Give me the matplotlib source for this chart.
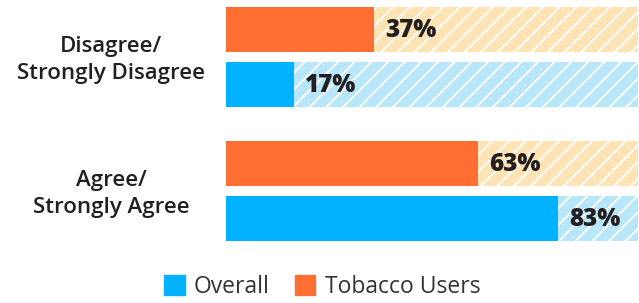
import matplotlib.pyplot as plt
import matplotlib.patches as mpatches

plt.rcParams['font.family'] = ['Open Sans', 'DejaVu Sans']
plt.rcParams['hatch.color'] = 'white'
plt.rcParams['hatch.linewidth'] = 1.4

categories = ['Disagree/\nStrongly Disagree', 'Agree/\nStrongly Agree']
tobacco = [37, 63]
overall = [17, 83]
series_names = ['Overall', 'Tobacco Users']

c_overall = '#00B2FF'
c_overall_bg = '#B8E7FB'
c_tobacco = '#FF6F33'
c_tobacco_bg = '#FEE4B4'
x_max = 103

fig = plt.figure(figsize=(6.39, 3.03), dpi=100)
# axes spans pixel x 226..638, y 7..241
ax = fig.add_axes([226 / 639, 1 - 241 / 303, 412 / 639, 234 / 303])

bar_h = 45
group_gap = 134
inner = 55
for i, cat in enumerate(categories):
    y_t = 22.5 + i * group_gap
    y_o = y_t + inner
    ax.barh(y_t, x_max, height=bar_h, color=c_tobacco_bg, hatch='//', edgecolor='white', linewidth=0)
    ax.barh(y_o, x_max, height=bar_h, color=c_overall_bg, hatch='//', edgecolor='white', linewidth=0)
    ax.barh(y_t, tobacco[i], height=bar_h, color=c_tobacco, linewidth=0)
    ax.barh(y_o, overall[i], height=bar_h, color=c_overall, linewidth=0)
    ax.text(tobacco[i] + 2.8, y_t + 1, f'{tobacco[i]}%', va='center', ha='left',
            fontsize=17.5, fontweight='heavy', color='#231f20')
    ax.text(overall[i] + 2.8, y_o + 1, f'{overall[i]}%', va='center', ha='left',
            fontsize=17.5, fontweight='heavy', color='#231f20')
    fig.text(111 / 639, 1 - (y_t + inner / 2 + 10) / 303, cat, ha='center', va='center',
             fontsize=16, fontweight='semibold', color='#231f20', linespacing=1.4)

ax.set_xlim(0, x_max)
ax.set_ylim(234, 0)
ax.axis('off')

handles = [mpatches.Patch(color=c_overall), mpatches.Patch(color=c_tobacco)]
fig.legend(handles, series_names, loc='center', bbox_to_anchor=(0.504, 1 - 287 / 303),
           ncol=2, frameon=False, handlelength=0.9, handleheight=0.95,
           handletextpad=0.4, columnspacing=1.1, labelcolor='#333333',
           prop={'family': ['Open Sans', 'DejaVu Sans'], 'size': 16.5})

fig.savefig('out.png', dpi=100)
